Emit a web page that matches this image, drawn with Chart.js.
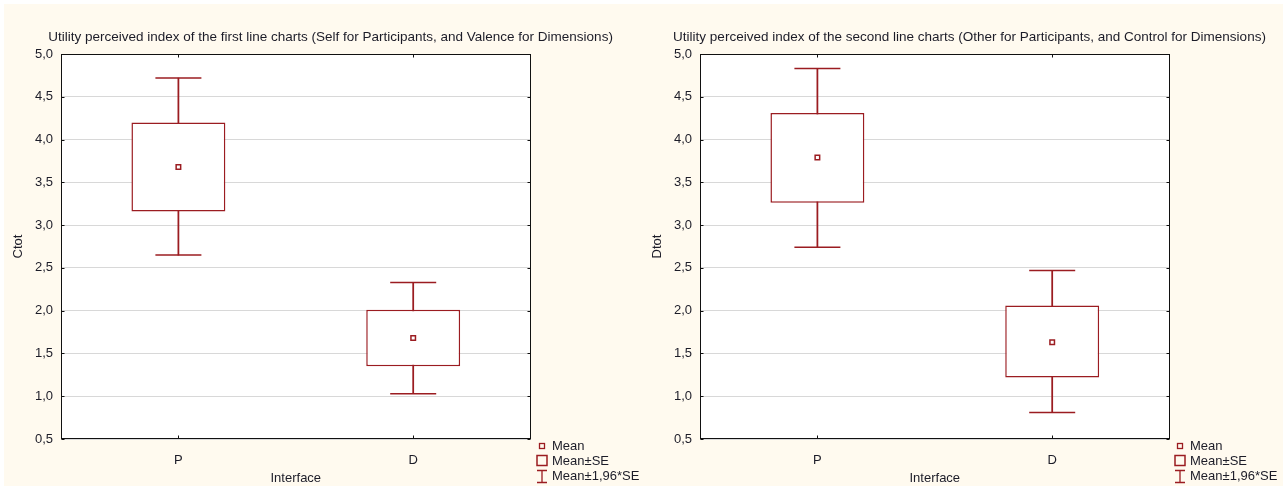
<!DOCTYPE html>
<html>
<head>
<meta charset="utf-8">
<script src="https://cdn.jsdelivr.net/npm/chart.js@4.4.1/dist/chart.umd.min.js"></script>
<style>
	html, body { margin: 0; padding: 0; width: 1287px; height: 488px; overflow: hidden; background: #fff; position: relative; }
	#paper { position: absolute; left: 4px; top: 4px; width: 1279px; height: 482px; background: #fffaef; }
	canvas { position: absolute; top: 0; }
	.lg { position: absolute; font: 13px "Liberation Sans", Arial, sans-serif; color: #1c1c28; line-height: 16px; white-space: nowrap; }
	.lg svg { position: absolute; left: -16px; top: 1px; }
</style>
</head>
<body>
<div id="paper"></div>
<canvas id="c1" width="661" height="488" style="left:0px"></canvas>
<canvas id="c2" width="661" height="488" style="left:639px"></canvas>
<div id="legend"></div>
<script>
// values
var categories = ['P', 'D']
var yTickLabels = ['0,5', '1,0', '1,5', '2,0', '2,5', '3,0', '3,5', '4,0', '4,5', '5,0']

// first panel: Ctot
var ctotMean      = [3.68, 1.68]
var ctotBoxLow    = [3.16, 1.35]
var ctotBoxHigh   = [4.20, 2.01]
var ctotWhiskLow  = [2.65, 1.03]
var ctotWhiskHigh = [4.72, 2.33]

// second panel: Dtot
var dtotMean      = [3.79, 1.63]
var dtotBoxLow    = [3.26, 1.22]
var dtotBoxHigh   = [4.31, 2.06]
var dtotWhiskLow  = [2.74, 0.81]
var dtotWhiskHigh = [4.83, 2.47]

var legendLabels = ['Mean', 'Mean\u00b1SE', 'Mean\u00b11,96*SE']

var RED  = '#9b1c21'
var TEXT = '#1c1c28'
var FONT = '"Liberation Sans", Arial, sans-serif'

function pairs(lo, hi) {
	return lo.map(function (v, i) { return [v, hi[i]] })
}

// white plot area, frame + inward ticks, statistica style
var framePlugin = {
	id: 'frame',
	beforeDraw: function (chart) {
		var a = chart.chartArea
		chart.ctx.save()
		chart.ctx.fillStyle = '#fff'
		chart.ctx.fillRect(a.left, a.top, a.right - a.left, a.bottom - a.top)
		chart.ctx.restore()
	},
	afterDraw: function (chart) {
		var a = chart.chartArea, ctx = chart.ctx
		var sx = chart.scales.x, sy = chart.scales.y
		var l = Math.round(a.left) + 0.5, r = Math.round(a.right) - 0.5
		var t = Math.round(a.top) + 0.5, b = Math.round(a.bottom) - 0.5
		ctx.save()
		ctx.strokeStyle = '#111'
		ctx.lineWidth = 1
		ctx.strokeRect(l, t, r - l, b - t)
		ctx.beginPath()
		sy.ticks.forEach(function (tk, i) {
			var py = Math.round(sy.getPixelForTick(i)) + 0.5
			ctx.moveTo(l, py); ctx.lineTo(l + 3, py)
			ctx.moveTo(r - 3, py); ctx.lineTo(r, py)
		})
		categories.forEach(function (c, i) {
			var px = Math.round(sx.getPixelForTick(i)) + 0.5
			ctx.moveTo(px, t); ctx.lineTo(px, t + 3)
			ctx.moveTo(px, b - 3); ctx.lineTo(px, b)
		})
		ctx.stroke()
		ctx.restore()
	}
}

function boxChart(element, title, yTitle, s) {
	return new Chart(document.getElementById(element), {
		type: 'bar',
		data: {
			labels: categories,
			datasets: [
				{ type: 'bar', data: pairs(s.whiskLow, s.whiskHigh), backgroundColor: RED, barThickness: 1.1, grouped: false, order: 4 },
				{ type: 'bar', data: pairs(s.boxLow, s.boxHigh), backgroundColor: '#fff', borderColor: RED, borderWidth: 1.5,
					borderSkipped: false, barPercentage: 0.4, categoryPercentage: 1, grouped: false, order: 3 },
				{ type: 'line', data: s.whiskHigh, showLine: false, pointStyle: 'line', pointRadius: 23,
					pointBorderColor: RED, pointBorderWidth: 1.5, order: 2 },
				{ type: 'line', data: s.whiskLow, showLine: false, pointStyle: 'line', pointRadius: 23,
					pointBorderColor: RED, pointBorderWidth: 1.5, order: 2 },
				{ type: 'line', data: s.mean, showLine: false, pointStyle: 'rect', pointRadius: 3.2,
					pointBackgroundColor: '#fff', pointBorderColor: RED, pointBorderWidth: 1.5, order: 1 }
			]
		},
		options: {
			responsive: false,
			animation: false,
			events: [],
			layout: { padding: 0 },
			plugins: {
				legend: { display: false },
				tooltip: { enabled: false },
				title: {
					display: true, text: title, color: TEXT,
					font: { family: FONT, size: 13.5, weight: 'normal' },
					padding: { top: 29.2, bottom: 8.6 }
				}
			},
			scales: {
				x: {
					type: 'category', offset: true,
					grid: { display: false },
					border: { display: false },
					ticks: { padding: 6, color: TEXT, font: { family: FONT, size: 13 } },
					title: { display: true, text: 'Interface', color: TEXT, font: { family: FONT, size: 13 }, padding: { top: 0, bottom: 2 } },
					afterFit: function (scale) { scale.height = 49 }
				},
				y: {
					min: 0.5, max: 5,
					grid: { color: '#d8d8d8', drawTicks: false },
					border: { display: false },
					ticks: {
						stepSize: 0.5, padding: 8, color: TEXT, font: { family: FONT, size: 13 },
						callback: function (v, i) { return yTickLabels[i] }
					},
					title: { display: true, text: yTitle, color: TEXT, font: { family: FONT, size: 13 }, padding: { top: 11, bottom: 0 } },
					afterFit: function (scale) { scale.width = 61 }
				},
				pad: {
					type: 'linear', position: 'right',
					grid: { display: false }, border: { display: false }, ticks: { display: false },
					afterFit: function (scale) { scale.width = 130.4 }
				}
			}
		},
		plugins: [framePlugin]
	})
}

function legend(left) {
	var box = document.getElementById('legend')
	var icons = [
		'<svg width="12" height="14"><rect x="3.5" y="4.5" width="5" height="5" fill="none" stroke="' + RED + '" stroke-width="1.3"/></svg>',
		'<svg width="12" height="14"><rect x="1" y="1.5" width="10" height="10" fill="none" stroke="' + RED + '" stroke-width="1.5"/></svg>',
		'<svg width="12" height="16"><path d="M1 1.5H11M6 1.5V13.5M1 13.5H11" fill="none" stroke="' + RED + '" stroke-width="1.3"/></svg>'
	]
	legendLabels.forEach(function (txt, i) {
		var d = document.createElement('div')
		d.className = 'lg'
		d.style.left = left + 'px'
		d.style.top = (438 + i * 15) + 'px'
		d.innerHTML = icons[i]
		d.appendChild(document.createTextNode(txt))
		box.appendChild(d)
	})
}

boxChart('c1', 'Utility perceived index of the first line charts (Self for Participants, and Valence for Dimensions)', 'Ctot',
	{ mean: ctotMean, boxLow: ctotBoxLow, boxHigh: ctotBoxHigh, whiskLow: ctotWhiskLow, whiskHigh: ctotWhiskHigh })
boxChart('c2', 'Utility perceived index of the second line charts (Other for Participants, and Control for Dimensions)', 'Dtot',
	{ mean: dtotMean, boxLow: dtotBoxLow, boxHigh: dtotBoxHigh, whiskLow: dtotWhiskLow, whiskHigh: dtotWhiskHigh })

legend(552)
legend(1190)
</script>
</body>
</html>
